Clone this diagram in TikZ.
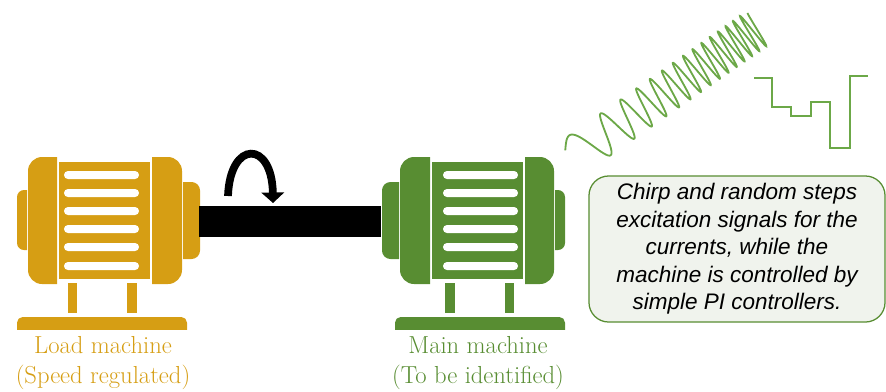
\documentclass[tikz,border=0pt]{standalone}
\usepackage{fontspec}
\newfontfamily\notefont{Liberation Sans}
\usetikzlibrary{arrows.meta}
\definecolor{loadgold}{RGB}{214,158,20}
\definecolor{maingreen}{RGB}{88,141,50}
\definecolor{signalgreen}{RGB}{108,168,72}
\definecolor{notefill}{RGB}{240,243,237}
\tikzset{
  pics/machine/.style={code={
    % end caps and bells, rounded on the outer side only
    \begin{scope}
      \clip (-90,0) rectangle (-77.5,400);
      \fill[rounded corners=5pt] (-87.5,190) rectangle (-67.5,250);
    \end{scope}
    \begin{scope}
      \clip (-80,0) rectangle (-47.5,400);
      \fill[rounded corners=10pt] (-76.5,157) rectangle (-30,284);
    \end{scope}
    \fill (-45.5,162) rectangle (45.5,279);
    \begin{scope}
      \clip (47.5,0) rectangle (80,400);
      \fill[rounded corners=10pt] (30,157) rectangle (77.5,284);
    \end{scope}
    \begin{scope}
      \clip (78.5,0) rectangle (100,400);
      \fill[rounded corners=6pt] (60,182) rectangle (95.5,259);
    \end{scope}
    % cooling slots
    \foreach \y in {175,193,211,229,247,266}
      \fill[white, rounded corners=2.8pt] (-40.5,\y-4) rectangle (34.5,\y+4);
    % feet and base
    \fill (-36.5,283) rectangle (-27.5,313);
    \fill (22.5,283) rectangle (32.5,313);
    \begin{scope}
      \clip (-90,310) rectangle (90,329);
      \fill[rounded corners=4pt] (-87.5,317) rectangle (82.5,340);
    \end{scope}
  }},
  machinename/.style={align=center, inner sep=0pt, font=\fontsize{17.5}{21.3}\selectfont},
  note/.style={draw=maingreen, line width=0.9pt, fill=notefill, rounded corners=14pt,
    minimum width=7.4cm, minimum height=3.65cm, align=center,
    font=\notefont\itshape\fontsize{16}{19.5}\selectfont},
  chirp/.style={signalgreen, line width=1.3pt},
  steps/.style={signalgreen, line width=2.1pt},
  spin/.style={line width=5.5pt, -{Triangle[width=16pt, length=7.5pt]}},
}
\begin{document}
\begin{tikzpicture}[x=0.025cm, y=-0.025cm]
\useasboundingbox (0,0) rectangle (886,391);

\pic[color=loadgold] at (104.5,0) {machine};
\pic[color=maingreen, xscale=-1] at (477.5,0) {machine};

\coordinate (shaftL) at (199,206);
\coordinate (shaftR) at (381,237);
\fill (shaftL) rectangle (shaftR);

\coordinate (spinA) at (228,196);
\coordinate (spinB) at (273,203);
\draw[spin] (spinA) .. controls (230,140) and (272,140) .. (spinB);

\node[machinename, text=loadgold] (loadname) at (103,363) {Load machine\\(Speed regulated)};
\node[machinename, text=maingreen] (mainname) at (478,363) {Main machine\\(To be identified)};

\begin{scope}[shift={(571,158.6)}, rotate=35]
\draw[chirp] plot[domain=0:228, samples=700] (\x, {-20*sin(30+4*\x+0.087*\x*\x)});
\end{scope}
\draw[steps] (754,78) -- (772,78) -- (772,107) -- (791,107) -- (791,116) -- (811,116) -- (811,102)
  -- (830,102) -- (830,148) -- (850,148) -- (850,76) -- (868,76);

\node[note] (note) at (737,249) {Chirp and random steps\\excitation signals for the\\currents, while the\\machine is controlled by\\simple PI controllers.};
\end{tikzpicture}
\end{document}
